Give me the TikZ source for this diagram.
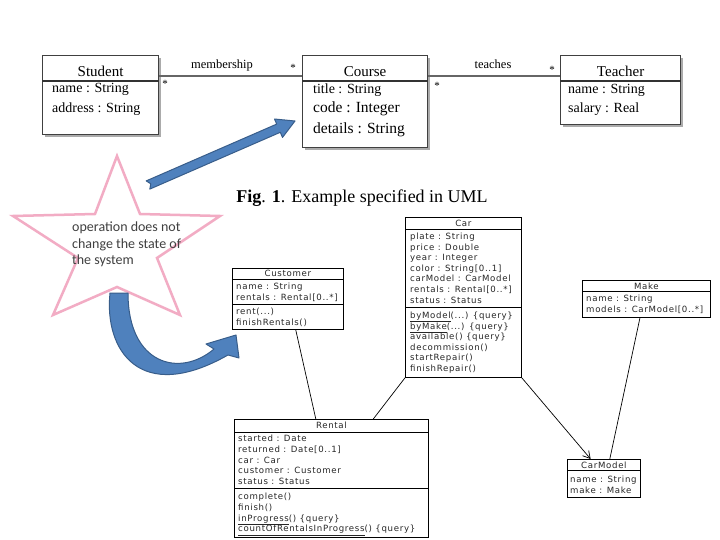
\documentclass[tikz,border=0pt]{standalone}
\usepackage{fontspec}
\setmainfont{Liberation Serif}
\newfontfamily\umlsans[LetterSpace=8]{DejaVu Sans}
\newfontfamily\notefont{Carlito}
\usetikzlibrary{calc,arrows.meta,shadows}
\definecolor{arrowfill}{RGB}{79,129,189}
\definecolor{arrowedge}{RGB}{56,93,138}
\definecolor{starpink}{RGB}{242,172,196}
\begin{document}
\begin{tikzpicture}[x=1pt,y=-1pt,
  topbox/.style={draw=black!75, line width=1.2pt, fill=white, anchor=north west, inner sep=0pt,
     drop shadow={shadow xshift=2.5pt, shadow yshift=-2.5pt, fill=black!55, opacity=0.6}},
  hdr/.style={draw=black!80, line width=1.8pt},
  ttitle/.style={font=\fontsize{15}{18}\selectfont, anchor=base, inner sep=0pt},
  tattr/.style={font=\fontsize{14}{16}\selectfont, anchor=base west, inner sep=0pt},
  tattrb/.style={font=\fontsize{15.5}{18}\selectfont, anchor=base west, inner sep=0pt},
  tlabel/.style={font=\fontsize{12.5}{14}\selectfont, anchor=base, inner sep=0pt},
  tmult/.style={font=\fontsize{11}{12}\selectfont, inner sep=0pt},
  tline/.style={draw=black!60, line width=1.5pt},
  lbox/.style={draw=black, line width=0.8pt, fill=white, anchor=north west, inner sep=0pt},
  ltxt/.style={font=\umlsans\fontsize{8.6}{10}\selectfont, anchor=base west, inner sep=0pt, text=black!85},
  lttl/.style={font=\umlsans\fontsize{8.6}{10}\selectfont, anchor=base, inner sep=0pt, text=black!85},
  lsep/.style={draw=black, line width=0.8pt},
  lline/.style={draw=black, line width=0.7pt},
  blockarrow/.style={fill=arrowfill, draw=arrowedge, line width=1pt, line join=round},
  starline/.style={draw=starpink, line width=2.5pt, line join=miter},
  notetext/.style={font=\notefont\fontsize{14}{16}\selectfont, anchor=base west, inner sep=0pt, text=black!75}
]
\useasboundingbox (0,0) rectangle (720,540);
\fill[white] (0,0) rectangle (720,540);

% ---------- top UML diagram ----------
\node[topbox, minimum width=116pt, minimum height=79pt] (student) at (42,55) {};
\node[topbox, minimum width=125pt, minimum height=92pt] (course) at (302,55) {};
\node[topbox, minimum width=120pt, minimum height=69pt] (teacher) at (560,55) {};

\draw[hdr] ($(student.north west)+(0,26)$) -- ($(student.north east)+(0,26)$);
\draw[hdr] ($(course.north west)+(0,26)$) -- ($(course.north east)+(0,26)$);
\draw[hdr] ($(teacher.north west)+(0,26)$) -- ($(teacher.north east)+(0,26)$);

\node[ttitle] (student-t) at ($(student.north)+(0,21.5)$) {Student};
\node[tattr] (student-a1) at (52,93) {name : String};
\node[tattr] (student-a2) at (52,113) {address : String};

\node[ttitle] (course-t) at ($(course.north)+(0,21.5)$) {Course};
\node[tattr] (course-a1) at (313,94) {title : String};
\node[tattrb] (course-a2) at (313,113) {code : Integer};
\node[tattrb] (course-a3) at (313,134) {details : String};

\node[ttitle] (teacher-t) at ($(teacher.north)+(0,21.5)$) {Teacher};
\node[tattr] (teacher-a1) at (568,94) {name : String};
\node[tattr] (teacher-a2) at (568,113) {salary : Real};

\draw[tline] ($(student.north east)+(0,21)$) -- ($(course.north west)+(0,21)$);
\draw[tline] ($(course.north east)+(0,21)$) -- ($(teacher.north west)+(0,21)$);
\node[tlabel] (memb) at (222,69) {membership};
\node[tlabel] (teach) at (493,69) {teaches};
\node[tmult] (m1) at (165,84) {*};
\node[tmult] (m2) at (293,68) {*};
\node[tmult] (m3) at (437,86) {*};
\node[tmult] (m4) at (552,70) {*};

\node[font=\fontsize{18}{20}\selectfont, anchor=base, inner sep=0pt] (caption) at (362,203)
  {\textbf{Fig}. \textbf{1}. Example specified in UML};

% ---------- star note ----------
\draw[starline] (117,156) -- (140,214) -- (220,216) -- (157,258) -- (180,315) -- (117,287)
  -- (53,315) -- (78,258) -- (13,216) -- (95,214) -- cycle;
\node[notetext] (note1) at (72,231) {operation does not};
\node[notetext] (note2) at (72,248) {change the state of};
\node[notetext] (note3) at (72,264) {the system};

% ---------- blue arrows ----------
\filldraw[blockarrow] (149.8,189.1) -- (280.3,132.3) -- (282.5,137.4) -- (295,121) -- (274.5,119.0)
  -- (276.7,124.1) -- (146.2,180.9) -- (150.8,183.8) -- cycle;
\filldraw[blockarrow] (110,293) .. controls (104,350) and (140,405) .. (228,355) -- (239,358)
  -- (236,335) -- (206,344) -- (214,349) .. controls (180,378) and (128,365) .. (128,293) -- cycle;

% ---------- lower UML diagram ----------
% Customer
\node[lbox, minimum width=111pt, minimum height=61pt] (customer) at (232,268) {};
\draw[lsep] ($(customer.north west)+(0,11)$) -- ($(customer.north east)+(0,11)$);
\draw[lsep] ($(customer.north west)+(0,36)$) -- ($(customer.north east)+(0,36)$);
\node[lttl] (customer-t) at ($(customer.north)+(0,8.5)$) {Customer};
\node[ltxt] (cu1) at (236,289) {name : String};
\node[ltxt] (cu2) at (236,300) {rentals : Rental[0..*]};
\node[ltxt] (cu3) at (236,314) {rent(...)};
\node[ltxt] (cu4) at (236,325) {finishRentals()};

% Car
\node[lbox, minimum width=116pt, minimum height=160pt] (car) at (405,217) {};
\draw[lsep] ($(car.north west)+(0,12)$) -- ($(car.north east)+(0,12)$);
\draw[lsep] ($(car.north west)+(0,90)$) -- ($(car.north east)+(0,90)$);
\node[lttl] (car-t) at ($(car.north)+(0,9)$) {Car};
\node[ltxt] (ca1) at (410,239.5) {plate : String};
\node[ltxt] (ca2) at (410,250.1) {price : Double};
\node[ltxt] (ca3) at (410,260.7) {year : Integer};
\node[ltxt] (ca4) at (410,271.3) {color : String[0..1]};
\node[ltxt] (ca5) at (410,281.9) {carModel : CarModel};
\node[ltxt] (ca6) at (410,292.5) {rentals : Rental[0..*]};
\node[ltxt] (ca7) at (410,303.1) {status : Status};
\node[ltxt] (co1) at (410,318.5) {\underline{byModel}(...) {\{}query{\}}};
\node[ltxt] (co2) at (410,329.1) {\underline{byMake}(...) {\{}query{\}}};
\node[ltxt] (co3) at (410,339.7) {available() {\{}query{\}}};
\node[ltxt] (co4) at (410,350.3) {decommission()};
\node[ltxt] (co5) at (410,360.9) {startRepair()};
\node[ltxt] (co6) at (410,371.5) {finishRepair()};

% Make
\node[lbox, minimum width=128pt, minimum height=37pt] (make) at (582,280) {};
\draw[lsep] ($(make.north west)+(0,11.5)$) -- ($(make.north east)+(0,11.5)$);
\node[lttl] (make-t) at ($(make.north)+(0,9)$) {Make};
\node[ltxt] (mk1) at (586,301.5) {name : String};
\node[ltxt] (mk2) at (586,312.5) {models : CarModel[0..*]};

% CarModel
\node[lbox, minimum width=73pt, minimum height=38pt] (carmodel) at (567,459) {};
\draw[lsep] ($(carmodel.north west)+(0,11.5)$) -- ($(carmodel.north east)+(0,11.5)$);
\node[lttl] (carmodel-t) at ($(carmodel.north)+(0,9)$) {CarModel};
\node[ltxt] (cm1) at (570,482) {name : String};
\node[ltxt] (cm2) at (570,493) {make : Make};

% Rental
\node[lbox, minimum width=194pt, minimum height=118pt] (rental) at (234,419) {};
\draw[lsep] ($(rental.north west)+(0,13)$) -- ($(rental.north east)+(0,13)$);
\draw[lsep] ($(rental.north west)+(0,69.5)$) -- ($(rental.north east)+(0,69.5)$);
\node[lttl] (rental-t) at ($(rental.north)+(0,9.5)$) {Rental};
\node[ltxt] (r1) at (238,441.5) {started : Date};
\node[ltxt] (r2) at (238,452.3) {returned : Date[0..1]};
\node[ltxt] (r3) at (238,463.1) {car : Car};
\node[ltxt] (r4) at (238,473.9) {customer : Customer};
\node[ltxt] (r5) at (238,484.7) {status : Status};
\node[ltxt] (r6) at (238,499.5) {complete()};
\node[ltxt] (r7) at (238,510.3) {finish()};
\node[ltxt] (r8) at (238,521.1) {\underline{inProgress}() {\{}query{\}}};
\node[ltxt] (r9) at (238,531.9) {\underline{countOfRentalsInProgress}() {\{}query{\}}};

% lower connectors
\draw[lline] ($(customer.south west)!0.57!(customer.south east)$) -- ($(rental.north west)!0.42!(rental.north east)$);
\draw[lline] (car.south west) -- ($(rental.north west)!0.715!(rental.north east)$);
\draw[lline, -{Straight Barb[length=7pt,width=8pt]}] (car.south east) -- ($(carmodel.north west)!0.32!(carmodel.north east)$);
\draw[lline] ($(make.south west)!0.45!(make.south east)$) -- ($(carmodel.north west)!0.58!(carmodel.north east)$);
\end{tikzpicture}
\end{document}
